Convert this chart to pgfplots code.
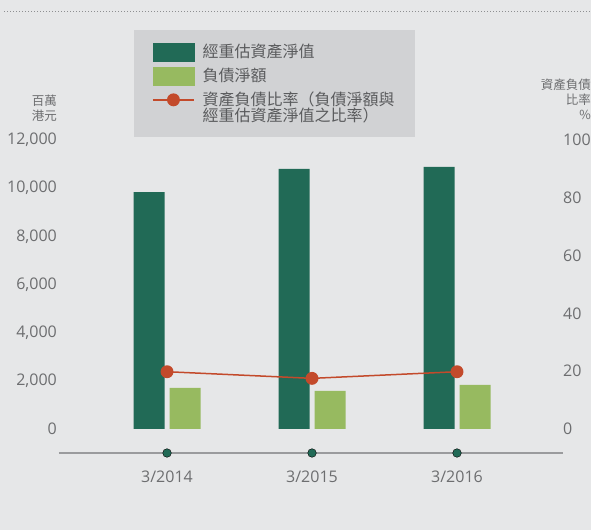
\documentclass[border=0pt]{standalone}
\usepackage{pgfplots}
\pgfplotsset{compat=1.18}
\usepackage{fontspec}
\setmainfont{Open Sans}
\newfontfamily\cjk{Noto Sans CJK TC}
\definecolor{bg}{HTML}{E6E7E8}
\definecolor{legbg}{HTML}{D1D2D4}
\definecolor{dgreen}{HTML}{216A56}
\definecolor{lgreen}{HTML}{97BA60}
\definecolor{ratiored}{HTML}{C34A2B}
\definecolor{tickgray}{HTML}{6D6E70}
\definecolor{leggray}{HTML}{5A5B5D}
\definecolor{axisgray}{HTML}{9A9B9D}
\definecolor{dotgray}{HTML}{8E8F91}

\pgfplotstableread{
x nav debt
0 9840 1702
1 10796 1578
2 10879 1827
}\bartable

\pgfplotstableread{
x ratio
0 19.8
1 17.5
2 19.8
}\ratiotable

\begin{document}
\begin{tikzpicture}[x=1pt,y=1pt]
\path[use as bounding box, fill=bg] (0,0) rectangle (591,530);
\draw[dotgray, line width=1pt, dash pattern=on 1pt off 2pt] (4,518) -- (591,518);

\begin{axis}[
  at={(59pt,77pt)}, anchor=south west,
  scale only axis, width=504pt, height=313pt,
  xmin=-0.745, xmax=2.731, ymin=-1000, ymax=12000,
  clip=false,
  axis x line*=bottom, axis y line*=left,
  x axis line style={-, draw=axisgray, line width=1.5pt},
  y axis line style={draw=none},
  xtick={0,1,2}, xticklabels={3/2014,3/2015,3/2016},
  ytick={0,2000,...,12000},
  scaled y ticks=false,
  major tick length=0pt,
  tick style={draw=none},
  /pgf/number format/assume math mode=true,
  /pgf/number format/1000 sep={,},
  tick label style={font=\fontsize{16}{16}\selectfont, text=tickgray},
  yticklabel style={anchor=east, inner sep=0pt, xshift=-2pt},
  xticklabel style={anchor=north, inner sep=0pt, yshift=-18pt},
  ylabel={百萬\\港元},
  every axis y label/.style={at={(rel axis cs:0,1)}, anchor=south east, align=right,
    inner sep=0pt, xshift=-2pt, yshift=18.5pt, text=tickgray,
    font=\cjk\fontsize{12.5}{15}\selectfont},
]
\addplot[ybar, bar width=31pt, bar shift=-18pt, fill=dgreen, draw=none] table[x=x, y=nav] {\bartable};
\addplot[ybar, bar width=31pt, bar shift=18pt, fill=lgreen, draw=none] table[x=x, y=debt] {\bartable};
\addplot[only marks, mark=*, mark size=4.3pt, mark options={fill=dgreen, draw=none}] coordinates {(0,-1000) (1,-1000) (2,-1000)};
\end{axis}

\begin{axis}[
  at={(59pt,77pt)}, anchor=south west,
  scale only axis, width=504pt, height=313pt,
  xmin=-0.745, xmax=2.731, ymin=-8.3333, ymax=100,
  clip=false,
  axis x line=none, axis y line*=right,
  y axis line style={draw=none},
  ytick={0,20,...,100},
  major tick length=0pt,
  tick style={draw=none},
  /pgf/number format/assume math mode=true,
  tick label style={font=\fontsize{16}{16}\selectfont, text=tickgray},
  yticklabel style={anchor=west, inner sep=0pt, xshift=0pt},
  ylabel={資產負債\\比率\\\%},
  every axis y label/.style={at={(rel axis cs:1,1)}, anchor=south east, align=right,
    inner sep=0pt, xshift=28pt, yshift=20pt, text=tickgray,
    font=\cjk\fontsize{12.5}{15}\selectfont},
  legend style={
    at={(rel axis cs:0.1488,1.3514)}, anchor=north west,
    fill=legbg, draw=none,
    inner xsep=18pt, inner ysep=12pt,
    row sep=5pt, column sep=6pt,
    font=\cjk\fontsize{16}{16}\selectfont,
    text=leggray,
    cells={anchor=west, align=left, inner sep=0pt},
  },
]
\addlegendimage{legend image code/.code={\fill[dgreen] (0pt,-9pt) rectangle (41pt,9pt);}}
\addlegendentry{經重估資產淨值}
\addlegendimage{legend image code/.code={\fill[lgreen] (0pt,-9pt) rectangle (41pt,9pt);}}
\addlegendentry{負債淨額}
\addplot[ratiored, line width=1.5pt, mark=*, mark size=5.7pt, mark options={fill=ratiored, draw=none},
  legend image code/.code={\draw[ratiored, line width=1.5pt] (0pt,8pt) -- (41pt,8pt); \fill[ratiored] (20.5pt,8pt) circle (5.7pt);}]
  table[x=x, y=ratio] {\ratiotable};
\addlegendentry{資產負債比率（負債淨額與\\經重估資產淨值之比率）}
\end{axis}
\end{tikzpicture}
\end{document}
